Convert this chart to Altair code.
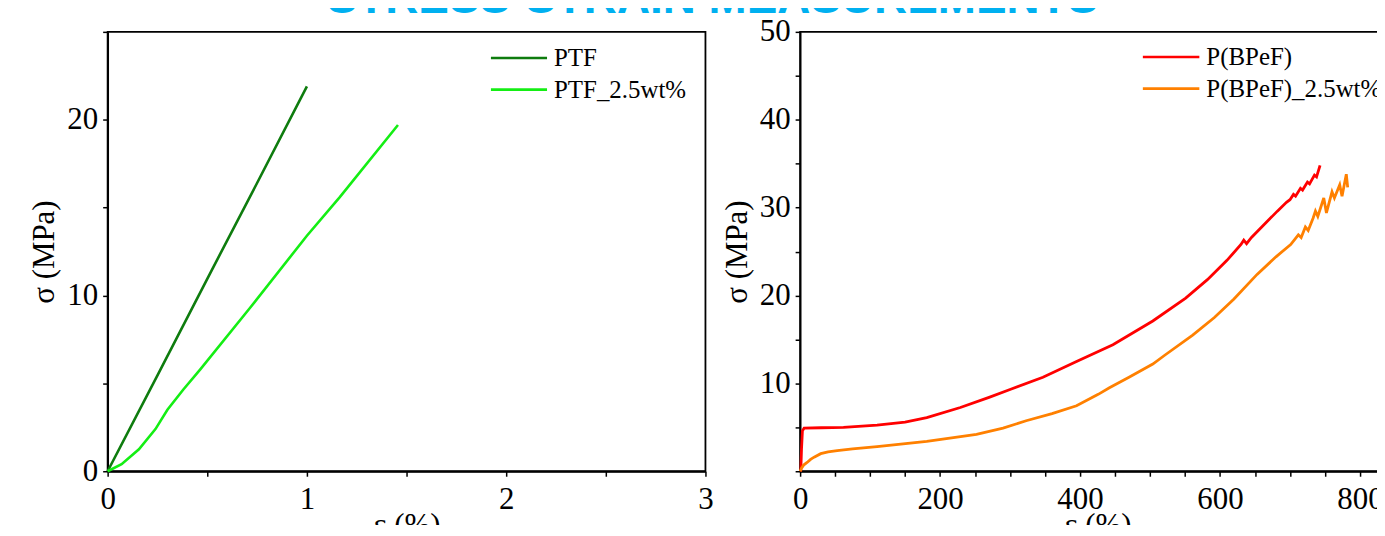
import altair as alt
import pandas as pd

TITLE = "STRESS-STRAIN MEASUREMENTS"

# ---- left panel data ----
PTF_X = [0.0, 0.25, 0.5, 0.75, 1.0]
PTF_Y = [0.0, 5.45, 10.95, 16.4, 21.9]
PTF25_X = [0.0, 0.07, 0.157, 0.24, 0.30, 0.38, 0.465, 0.715, 1.0, 1.165, 1.457]
PTF25_Y = [0.0, 0.4, 1.25, 2.4, 3.5, 4.65, 5.8, 9.3, 13.4, 15.6, 19.7]

# ---- right panel data ----
BPEF_X = [0, 1, 2, 3.3, 5.7, 30, 62, 110, 150, 181, 229, 270, 300, 347, 395, 447,
          504, 551, 582, 610, 630, 634, 638, 645, 682, 695, 700, 705, 708, 715, 718,
          725, 728, 735, 738, 743]
BPEF_Y = [0, 0.1, 2.5, 4.6, 4.9, 4.95, 5.0, 5.25, 5.6, 6.1, 7.25, 8.4, 9.3, 10.7, 12.5, 14.4,
          17.1, 19.7, 21.8, 24.0, 25.8, 26.3, 25.9, 26.6, 29.6, 30.6, 30.9, 31.5, 31.3, 32.2, 32.0,
          32.9, 32.7, 33.7, 33.5, 34.8]
BPEF25_X = [0, 2, 5, 10, 15, 20, 29.5, 40, 53, 75, 110, 181, 252, 290, 323, 360, 395, 426, 442,
            470, 504, 521, 561, 592, 620, 653, 680, 701, 712, 716, 722, 726, 733, 736.4, 739.8,
            748.3, 752.1, 760.1, 763.5, 771.1, 774.4, 780.5, 782.5]
BPEF25_Y = [0, 0.35, 0.7, 1.0, 1.35, 1.6, 2.0, 2.2, 2.35, 2.55, 2.8, 3.4, 4.2, 4.9, 5.75, 6.55,
            7.45, 8.75, 9.5, 10.7, 12.2, 13.2, 15.5, 17.5, 19.6, 22.4, 24.4, 25.8, 26.9, 26.6,
            27.8, 27.4, 28.8, 29.6, 29.0, 31.1, 29.4, 31.8, 31.1, 32.6, 31.3, 33.8, 32.3]

LEFT_NAMES = ["PTF", "PTF_2.5wt%"]
LEFT_COLORS = ["#0E7C0E", "#14EE14"]
RIGHT_NAMES = ["P(BPeF)", "P(BPeF)_2.5wt%"]
RIGHT_COLORS = ["#FF0000", "#FF8000"]

SERIF = "Liberation Serif"
FS = 31


def frame(names, xs_list, ys_list):
    rows = []
    for name, xs, ys in zip(names, xs_list, ys_list):
        for i, (x, y) in enumerate(zip(xs, ys)):
            rows.append({"x": x, "y": y, "series": name, "i": i})
    return pd.DataFrame(rows)


left_df = frame(LEFT_NAMES, [PTF_X, PTF25_X], [PTF_Y, PTF25_Y])
right_df = frame(RIGHT_NAMES, [BPEF_X, BPEF25_X], [BPEF_Y, BPEF25_Y])


def axis(values, label_expr, title):
    return alt.Axis(values=values, labelExpr=label_expr, title=title, grid=False,
                    labelFlush=False, labelOverlap=False)


def legend_layers(names, colors, x0, x1, y0, gap, clip):
    layers = []
    for k, (n, c) in enumerate(zip(names, colors)):
        d = pd.DataFrame({"label": [n]})
        yy = y0 + k * gap
        layers.append(alt.Chart(d).mark_rule(color=c, strokeWidth=2.6).encode(
            x=alt.value(x0), x2=alt.value(x1), y=alt.value(yy)))
        layers.append(alt.Chart(d).mark_text(align="left", baseline="middle", font=SERIF,
                                             fontSize=25, color="black", clip=clip).encode(
            x=alt.value(x1 + 7), y=alt.value(yy), text="label:N"))
    return layers


left_lines = alt.Chart(left_df).mark_line(strokeWidth=2.6).encode(
    x=alt.X("x:Q", scale=alt.Scale(domain=[0, 3], nice=False),
            axis=axis([i * 0.5 for i in range(7)],
                      "datum.value % 1 == 0 ? format(datum.value, 'd') : ''", "ε (%)")),
    y=alt.Y("y:Q", scale=alt.Scale(domain=[0, 25], nice=False),
            axis=axis([0, 5, 10, 15, 20, 25],
                      "datum.value % 10 == 0 ? format(datum.value, 'd') : ''", "σ (MPa)")),
    color=alt.Color("series:N", scale=alt.Scale(domain=LEFT_NAMES, range=LEFT_COLORS), legend=None),
    order="i:Q",
)

right_lines = alt.Chart(right_df).mark_line(strokeWidth=2.8).encode(
    x=alt.X("x:Q", scale=alt.Scale(domain=[0, 850], nice=False),
            axis=axis(list(range(0, 851, 50)),
                      "datum.value % 200 == 0 ? format(datum.value, 'd') : ''", "ε (%)")),
    y=alt.Y("y:Q", scale=alt.Scale(domain=[0, 50], nice=False),
            axis=axis(list(range(0, 51, 5)),
                      "datum.value % 10 == 0 && datum.value > 0 ? format(datum.value, 'd') : ''",
                      "σ (MPa)")),
    color=alt.Color("series:N", scale=alt.Scale(domain=RIGHT_NAMES, range=RIGHT_COLORS), legend=None),
    order="i:Q",
)

title_layer = alt.Chart(pd.DataFrame({"t": [TITLE]})).mark_text(
    font="Liberation Sans", fontWeight="bold", fontSize=46, color="#00B0F0",
    align="center", baseline="top").encode(
    x=alt.value(607), y=alt.value(-55), text="t:N")

left = alt.layer(left_lines, *legend_layers(LEFT_NAMES, LEFT_COLORS, 384.7, 441, 26.3, 31.7, False),
                 title_layer).properties(width=600, height=441)
right = alt.layer(right_lines, *legend_layers(RIGHT_NAMES, RIGHT_COLORS, 344, 400.7, 25.3, 31.7, True)
                  ).properties(width=597, height=441)

chart = alt.hconcat(left, right, spacing=95, bounds="flush").resolve_scale(
    color="independent", x="independent", y="independent"
).properties(
    padding={"left": 20, "top": -34, "right": -20, "bottom": -17},
    background="white",
).configure_view(stroke="black", strokeWidth=1.8).configure_axis(
    domainColor="black", domainWidth=1.8, tickColor="black", tickWidth=1.5, tickSize=5,
    labelFont=SERIF, labelFontSize=FS, labelColor="black", labelPadding=5,
    titleFont=SERIF, titleFontSize=FS, titleFontWeight="normal", titleColor="black",
).configure_axisY(titlePadding=6).configure_axisX(labelPadding=8, titlePadding=-4)

chart.save("out.html", embed_options={"renderer": "svg", "actions": False})
